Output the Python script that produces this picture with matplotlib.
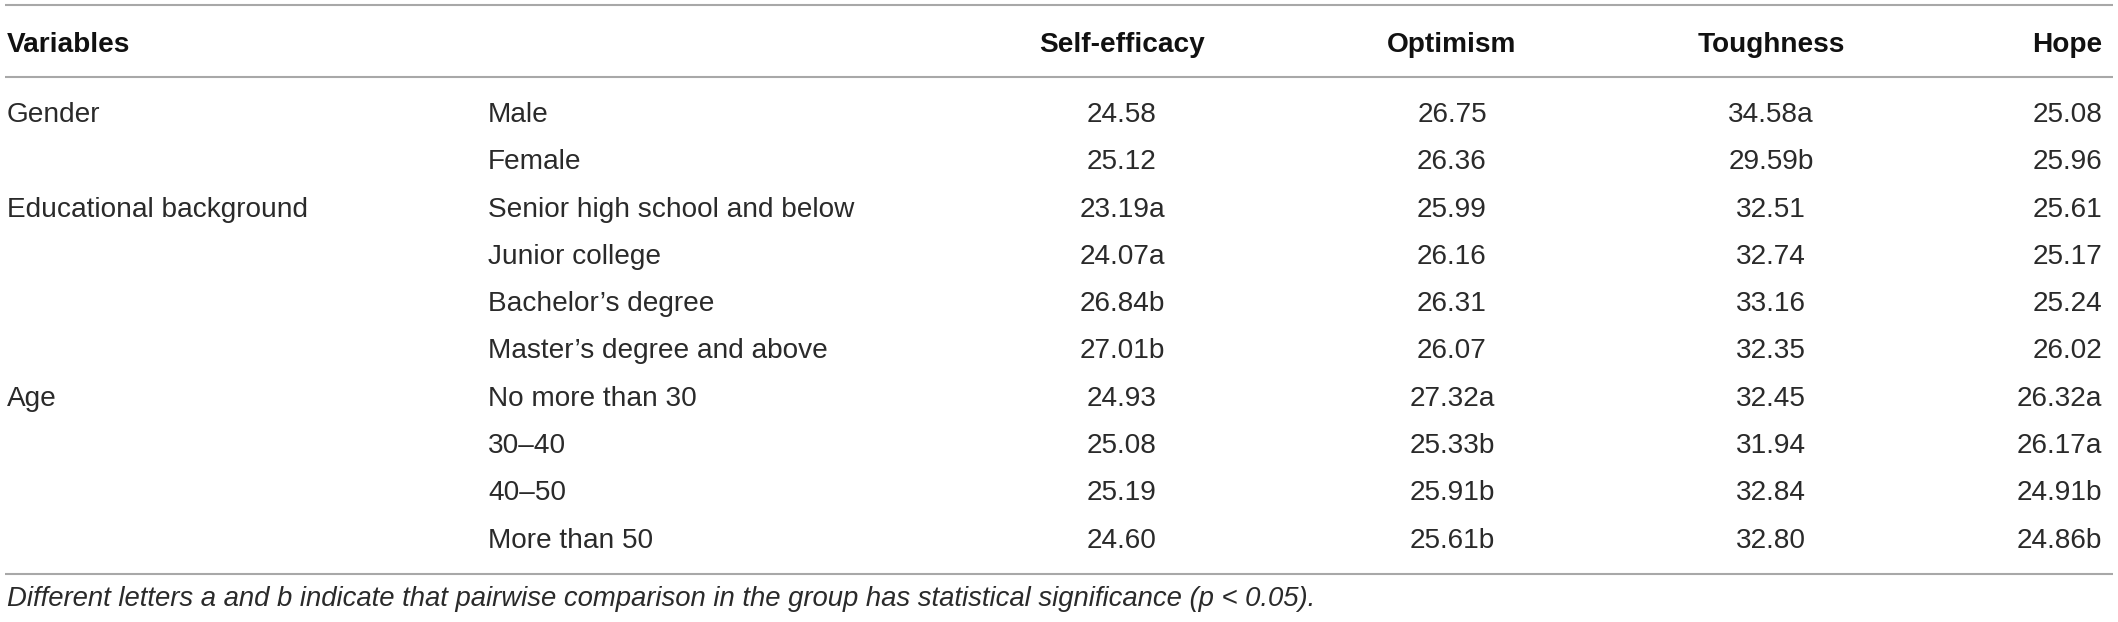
"""Table: psychological capital dimensions by demographic group."""

import matplotlib
matplotlib.use("Agg")
import matplotlib.pyplot as plt

# ------------------------------------------------------------
# DATA
# ------------------------------------------------------------
headers = ["Variables", "", "Self-efficacy", "Optimism", "Toughness", "Hope"]
groups = ["Gender", "", "Educational background", "", "", "",
          "Age", "", "", ""]
levels = ["Male", "Female", "Senior high school and below", "Junior college",
          "Bachelor\u2019s degree", "Master\u2019s degree and above",
          "No more than 30", "30\u201340", "40\u201350", "More than 50"]

self_efficacy = [24.58, 25.12, 23.19, 24.07, 26.84, 27.01, 24.93, 25.08, 25.19, 24.60]
self_eff_sig  = ["", "", "a", "a", "b", "b", "", "", "", ""]
optimism      = [26.75, 26.36, 25.99, 26.16, 26.31, 26.07, 27.32, 25.33, 25.91, 25.61]
optimism_sig  = ["", "", "", "", "", "", "a", "b", "b", "b"]
toughness     = [34.58, 29.59, 32.51, 32.74, 33.16, 32.35, 32.45, 31.94, 32.84, 32.80]
toughness_sig = ["a", "b", "", "", "", "", "", "", "", ""]
hope          = [25.08, 25.96, 25.61, 25.17, 25.24, 26.02, 26.32, 26.17, 24.91, 24.86]
hope_sig      = ["", "", "", "", "", "", "a", "a", "b", "b"]

footnote = ("Different letters a and b indicate that pairwise comparison in the group "
            "has statistical significance (p < 0.05).")

# ------------------------------------------------------------
# LAYOUT (pixel coordinates, origin top-left)
# ------------------------------------------------------------
W, H = 2118, 622
COL_X  = [7, 488, 1122, 1452, 1771, 2102]
COL_HA = ["left", "left", "center", "center", "center", "right"]
HEADER_BASE = 52
ROW_BASE0, ROW_STEP = 122, 47.3
LINE_Y = [5, 77, 574]
FOOT_BASE = 606
FS = 20.2
TXT = "#2a2a2a"
RULE = "#a8a8a8"

plt.rcParams["font.family"] = ["Liberation Sans", "DejaVu Sans"]

fig = plt.figure(figsize=(W / 100, H / 100), dpi=100)
ax = fig.add_axes([0, 0, 1, 1])
ax.set_xlim(0, W)
ax.set_ylim(H, 0)
ax.axis("off")

for y in LINE_Y:
    ax.plot([5, 2113], [y, y], color=RULE, lw=1.5, solid_capstyle="butt")

for x, ha, h in zip(COL_X, COL_HA, headers):
    ax.text(x, HEADER_BASE, h, ha=ha, va="baseline", fontsize=FS,
            fontweight="bold", color="#111111")

columns = [
    [f"{v:.2f}{s}" for v, s in zip(self_efficacy, self_eff_sig)],
    [f"{v:.2f}{s}" for v, s in zip(optimism, optimism_sig)],
    [f"{v:.2f}{s}" for v, s in zip(toughness, toughness_sig)],
    [f"{v:.2f}{s}" for v, s in zip(hope, hope_sig)],
]

for i in range(len(levels)):
    y = ROW_BASE0 + i * ROW_STEP
    row = [groups[i], levels[i]] + [c[i] for c in columns]
    for x, ha, t in zip(COL_X, COL_HA, row):
        ax.text(x, y, t, ha=ha, va="baseline", fontsize=FS, color=TXT)

ax.text(7, FOOT_BASE, footnote, ha="left", va="baseline", fontsize=19.8,
        style="italic", color=TXT)

fig.savefig("out.png", dpi=100)
